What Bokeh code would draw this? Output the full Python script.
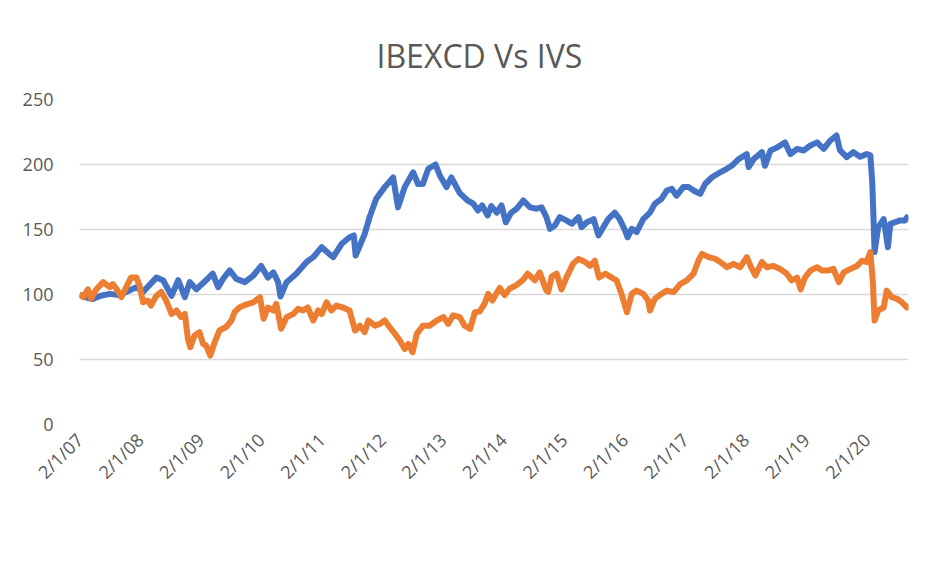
from math import pi
from bokeh.plotting import figure
from bokeh.models import Range1d, FixedTicker, Legend, LegendItem
from bokeh.embed import file_html
from bokeh.resources import INLINE

title_text = "IBEXCD Vs IVS"
series_names = ["IVS", "IBEX CD"]
tick_years = [2007, 2008, 2009, 2010, 2011, 2012, 2013, 2014, 2015, 2016, 2017, 2018, 2019, 2020]
tick_labels = ["2/1/07", "2/1/08", "2/1/09", "2/1/10", "2/1/11", "2/1/12", "2/1/13",
               "2/1/14", "2/1/15", "2/1/16", "2/1/17", "2/1/18", "2/1/19", "2/1/20"]
y_ticks = [0, 50, 100, 150, 200, 250]

ivs_t = [2007.00, 2007.08, 2007.22, 2007.35, 2007.50, 2007.65, 2007.77, 2007.94, 2008.05, 2008.27,
         2008.38, 2008.52, 2008.63, 2008.74, 2008.82, 2008.93, 2009.09, 2009.20, 2009.29, 2009.37,
         2009.48, 2009.59, 2009.73, 2009.87, 2010.00, 2010.11, 2010.20, 2010.28, 2010.32, 2010.42,
         2010.58, 2010.75, 2010.86, 2011.00, 2011.13, 2011.19, 2011.33, 2011.46, 2011.53, 2011.56,
         2011.63, 2011.71, 2011.79, 2011.90, 2012.04, 2012.18, 2012.26, 2012.37, 2012.51, 2012.59,
         2012.67, 2012.76, 2012.88, 2012.95, 2013.06, 2013.14, 2013.28, 2013.41, 2013.50, 2013.58,
         2013.65, 2013.74, 2013.80, 2013.89, 2013.97, 2014.04, 2014.13, 2014.22, 2014.33, 2014.44,
         2014.55, 2014.63, 2014.71, 2014.77, 2014.85, 2014.93, 2015.04, 2015.13, 2015.24, 2015.29,
         2015.38, 2015.49, 2015.57, 2015.65, 2015.73, 2015.84, 2015.92, 2016.01, 2016.05, 2016.12,
         2016.20, 2016.31, 2016.42, 2016.50, 2016.61, 2016.70, 2016.78, 2016.86, 2016.97, 2017.06,
         2017.14, 2017.25, 2017.33, 2017.44, 2017.58, 2017.69, 2017.77, 2017.88, 2018.02, 2018.05,
         2018.13, 2018.27, 2018.32, 2018.41, 2018.52, 2018.65, 2018.74, 2018.85, 2018.96, 2019.07,
         2019.18, 2019.29, 2019.40, 2019.50, 2019.56, 2019.67, 2019.78, 2019.89, 2020.00, 2020.06,
         2020.09, 2020.11, 2020.13, 2020.19, 2020.28, 2020.35, 2020.39, 2020.47, 2020.55, 2020.63,
         2020.69]
ivs_v = [100, 98, 96.5, 99, 100.5, 99.5, 102, 105.6, 102, 113,
         111, 99, 111, 98, 109.5, 104, 111, 116, 105.6, 112,
         118.5, 112, 109.5, 114.6, 122, 113, 117, 109.5, 98.5, 109.5,
         116, 125, 128.7, 136.4, 131, 128.7, 139, 144, 145.4, 130,
         137.7, 146.7, 159.5, 173.6, 182.6, 190, 167, 182.6, 194, 185,
         185, 196.7, 200, 191.5, 182.6, 190, 178, 172.3, 170, 164.6,
         168.5, 160.8, 168, 163, 168.5, 155.6, 163, 166, 172.3, 167,
         166, 167, 159.5, 150.5, 153, 159.5, 157, 154.4, 159.5, 151.8,
         155.6, 158, 145.4, 151.8, 158, 163, 158, 149.2, 144, 150.5,
         148, 158, 163, 169.7, 173.6, 180, 181.3, 176, 182.6, 182.6,
         180, 177.4, 185, 190, 194, 196.7, 199, 204, 208, 198,
         204, 209.5, 199, 210.8, 213, 217, 208, 212, 210.8, 214.6,
         217, 212, 218.5, 222.3, 210.8, 205.6, 209.5, 206, 208, 207,
         187.7, 162, 132.6, 151.8, 158, 136.4, 154.4, 155.6, 157, 157,
         160.8]

ibex_t = [2007.00, 2007.06, 2007.14, 2007.19, 2007.28, 2007.39, 2007.50, 2007.55, 2007.63, 2007.69,
          2007.77, 2007.85, 2007.94, 2007.99, 2008.05, 2008.13, 2008.18, 2008.27, 2008.35, 2008.43,
          2008.52, 2008.60, 2008.68, 2008.74, 2008.79, 2008.83, 2008.90, 2008.98, 2009.04, 2009.09,
          2009.16, 2009.23, 2009.31, 2009.42, 2009.51, 2009.56, 2009.64, 2009.75, 2009.87, 2009.98,
          2010.04, 2010.11, 2010.20, 2010.25, 2010.33, 2010.42, 2010.53, 2010.61, 2010.69, 2010.77,
          2010.86, 2010.94, 2011.00, 2011.08, 2011.16, 2011.24, 2011.35, 2011.46, 2011.55, 2011.63,
          2011.71, 2011.77, 2011.88, 2011.96, 2012.04, 2012.12, 2012.21, 2012.29, 2012.37, 2012.43,
          2012.50, 2012.57, 2012.67, 2012.78, 2012.90, 2013.01, 2013.09, 2013.17, 2013.28, 2013.36,
          2013.45, 2013.53, 2013.61, 2013.69, 2013.75, 2013.82, 2013.88, 2013.94, 2014.02, 2014.10,
          2014.21, 2014.32, 2014.40, 2014.52, 2014.60, 2014.71, 2014.74, 2014.80, 2014.88, 2014.96,
          2015.04, 2015.15, 2015.24, 2015.35, 2015.43, 2015.51, 2015.58, 2015.68, 2015.79, 2015.87,
          2015.95, 2016.04, 2016.12, 2016.20, 2016.31, 2016.39, 2016.42, 2016.50, 2016.61, 2016.70,
          2016.81, 2016.92, 2017.03, 2017.14, 2017.22, 2017.28, 2017.39, 2017.50, 2017.58, 2017.69,
          2017.80, 2017.91, 2018.02, 2018.08, 2018.16, 2018.27, 2018.35, 2018.46, 2018.57, 2018.68,
          2018.76, 2018.85, 2018.91, 2018.98, 2019.07, 2019.18, 2019.26, 2019.37, 2019.45, 2019.54,
          2019.62, 2019.73, 2019.84, 2019.92, 2020.00, 2020.06, 2020.10, 2020.13, 2020.19, 2020.28,
          2020.33, 2020.41, 2020.50, 2020.58, 2020.66, 2020.69]
ibex_v = [100.5, 98, 104, 96.7, 104, 109.5, 105.6, 108, 103, 98,
          105.6, 113, 113, 107, 94, 95.4, 91.5, 99, 102, 95.4,
          85, 87.7, 82.6, 85, 66, 59.5, 68.5, 71, 62, 60.8,
          53, 63, 72.3, 75, 80, 86.4, 90, 92.3, 94, 98,
          81.3, 90, 87.7, 92.8, 73.6, 82.6, 85, 89, 87.7, 90,
          80, 87.7, 85, 94, 87.7, 91.5, 90, 87.7, 72.3, 76,
          71, 80, 76, 77.4, 80, 75, 69.7, 64.6, 58, 62,
          55.6, 69.7, 76, 76, 80, 82.6, 77.4, 84, 82.6, 76,
          73.6, 86.4, 87, 93, 100.5, 95.4, 100.5, 105, 99.5, 104.4,
          107, 111, 116, 111, 117, 103, 102, 114, 116, 104,
          113, 123.6, 127.4, 125, 122, 126, 113, 116, 113, 110.8,
          100.5, 86.4, 100.5, 103, 100.5, 95.4, 87.7, 96.7, 100.5, 103,
          101.8, 108, 110.8, 116, 126, 131.3, 128.7, 127.4, 125, 121,
          123.6, 121, 128.7, 122, 114.6, 125, 121, 122, 119.7, 116,
          110.8, 113, 104, 113, 118.5, 121, 118.5, 118.5, 119.7, 109.5,
          117, 119.7, 122, 126, 125, 132.6, 110.8, 80, 87.7, 90,
          103, 98, 96.7, 94, 90, 92.8]

FONT = "Open Sans"
TXT = "#595959"

p = figure(frame_width=829, frame_height=325, output_backend="svg", toolbar_location=None,
           x_range=Range1d(2007.0, 2020.69), y_range=Range1d(0, 250),
           min_border_left=79, min_border_right=25, min_border_top=99, min_border_bottom=133,
           title=title_text)
p.outline_line_color = None
p.background_fill_color = "white"
p.border_fill_color = "white"

p.title.text_font = FONT
p.title.text_font_size = "32px"
p.title.text_font_style = "normal"
p.title.text_color = TXT
p.title.align = "left"
p.title.offset = 297
p.title.standoff = 46

r_ivs = p.line(ivs_t, ivs_v, line_color="#4472C4", line_width=6, line_join="round")
r_ibex = p.line(ibex_t, ibex_v, line_color="#ED7D31", line_width=6, line_join="round")

# axes
p.yaxis.ticker = FixedTicker(ticks=y_ticks)
p.xaxis.ticker = FixedTicker(ticks=tick_years)
p.xaxis.major_label_overrides = {yr: lbl for yr, lbl in zip(tick_years, tick_labels)}
p.xaxis.major_label_orientation = pi / 4
for ax in (p.xaxis, p.yaxis):
    ax.axis_line_color = None
    ax.major_tick_line_color = None
    ax.minor_tick_line_color = None
    ax.major_label_text_font = FONT
    ax.major_label_text_color = TXT
    ax.major_label_text_font_size = "18px"
p.yaxis.major_label_standoff = 20
p.xaxis.major_label_standoff = 6

p.xgrid.visible = False
p.ygrid.ticker = FixedTicker(ticks=y_ticks)
p.ygrid.grid_line_color = "#d9d9d9"
p.ygrid.grid_line_width = 1.5

legend = Legend(items=[LegendItem(label=series_names[0], renderers=[r_ivs]),
                       LegendItem(label=series_names[1], renderers=[r_ibex])],
                location=(289, 15), orientation="horizontal",
                padding=0, margin=0, spacing=22, glyph_width=50, glyph_height=20,
                label_height=20, label_standoff=3, label_text_font=FONT,
                label_text_color=TXT, label_text_font_size="18px",
                background_fill_alpha=0, border_line_color=None)
p.add_layout(legend, "below")

open("out.html", "w").write(file_html(p, INLINE))
